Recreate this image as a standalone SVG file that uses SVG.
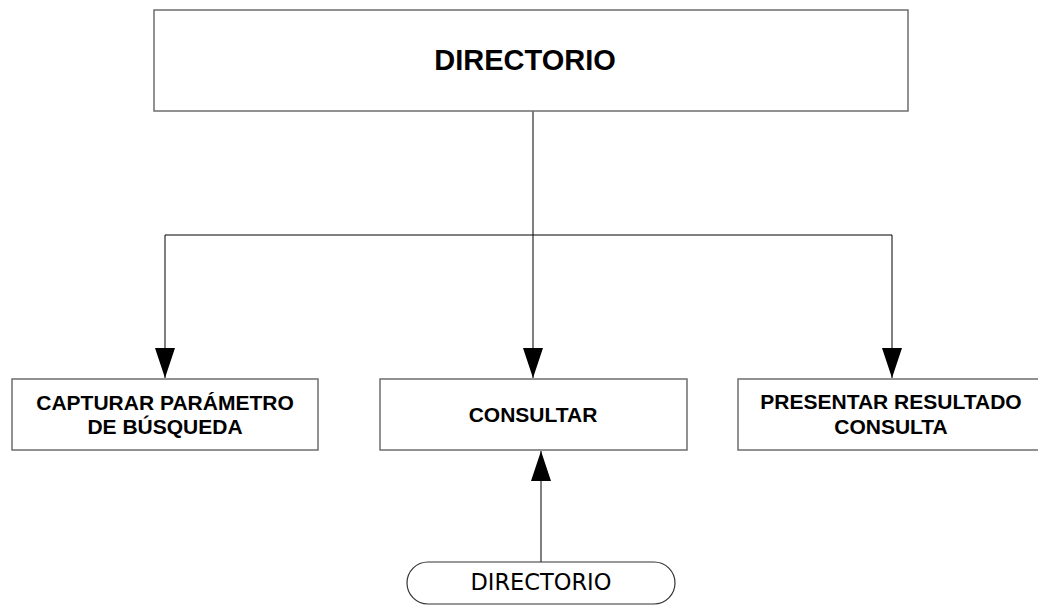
<svg xmlns="http://www.w3.org/2000/svg" width="1038" height="605" viewBox="0 0 1038 605">
<style>
.box{fill:#fff;stroke:#6e6e6e;stroke-width:1.5}
.lbl{font-family:"Liberation Sans",Arial,sans-serif;font-weight:bold;font-size:21px;fill:#000;text-anchor:middle}
.title{font-family:"Liberation Sans",Arial,sans-serif;font-weight:bold;font-size:29px;fill:#000;text-anchor:middle}
.term{font-family:"DejaVu Sans",Tahoma,sans-serif;font-size:22.5px;fill:#000;text-anchor:middle}
.conn{fill:none;stroke:#000;stroke-width:1}
</style>
<defs>
<marker id="arr" viewBox="0 0 30 20" refX="30" refY="10" markerUnits="userSpaceOnUse" markerWidth="30" markerHeight="20" orient="auto">
<path d="M0,0 L30,10 L0,20 Z" fill="#000"/>
</marker>
</defs>
<rect width="1038" height="605" fill="#fff"/>
<g id="connectors">
<path class="conn" d="M533,111 V235"/>
<path class="conn" d="M165,235 H892"/>
<path class="conn" d="M165,235 V378" marker-end="url(#arr)"/>
<path class="conn" d="M533,235 V378" marker-end="url(#arr)"/>
<path class="conn" d="M892,235 V378" marker-end="url(#arr)"/>
<path class="conn" d="M541,562 V451" marker-end="url(#arr)"/>
</g>
<g id="directorio-top">
<rect class="box" x="154" y="10" width="754" height="101"/>
<text class="title" x="525" y="70">DIRECTORIO</text>
</g>
<g id="capturar">
<rect class="box" x="12" y="379" width="306" height="71"/>
<text class="lbl" x="165" y="410">CAPTURAR PARÁMETRO</text>
<text class="lbl" x="165" y="434">DE BÚSQUEDA</text>
</g>
<g id="consultar">
<rect class="box" x="380" y="379" width="307" height="71"/>
<text class="lbl" x="533" y="422">CONSULTAR</text>
</g>
<g id="presentar">
<rect class="box" x="738" y="379" width="310" height="71"/>
<text class="lbl" x="891" y="409">PRESENTAR RESULTADO</text>
<text class="lbl" x="891" y="434">CONSULTA</text>
</g>
<g id="directorio-store">
<path d="M428,562 H654 A21,21 0 0 1 654,604 H428 A21,21 0 0 1 428,562 Z" fill="#fff" stroke="#333" stroke-width="1.2"/>
<text class="term" x="541" y="590">DIRECTORIO</text>
</g>
</svg>
